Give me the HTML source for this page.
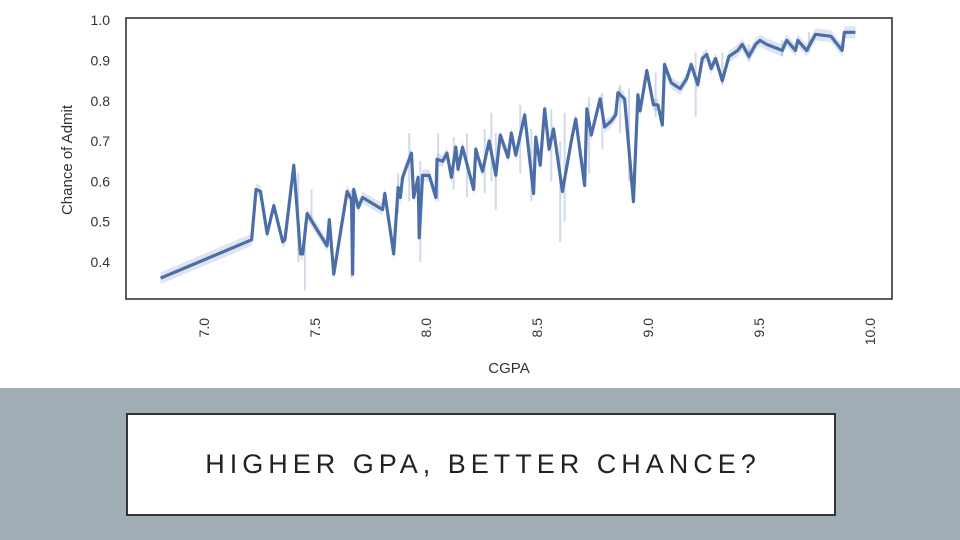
<!DOCTYPE html>
<html><head><meta charset="utf-8"><style>
body{margin:0;width:960px;height:540px;overflow:hidden;background:#fff;font-family:"Liberation Sans",sans-serif}
#band{position:absolute;left:0;top:388px;width:960px;height:152px;background:#a0adb4}
#box{position:absolute;left:126px;top:413px;width:706px;height:99px;border:2px solid #333;background:#fff;display:flex;align-items:center;justify-content:center;font-size:27px;letter-spacing:5px;color:#222;text-indent:4px}
svg{position:absolute;left:0;top:0}
</style></head><body>
<svg id="chart" width="960" height="390"></svg>
<div id="band"></div>
<div id="box"><span>HIGHER GPA, BETTER CHANCE?</span></div>
<script>
const cgpa=[6.80,7.21,7.23,7.25,7.28,7.31,7.35,7.36,7.40,7.43,7.44,7.46,7.55,7.56,7.58,7.64,7.66,7.665,7.67,7.69,7.71,7.80,7.81,7.85,7.87,7.88,7.89,7.93,7.94,7.96,7.965,7.98,8.01,8.04,8.045,8.07,8.09,8.11,8.13,8.14,8.16,8.21,8.22,8.23,8.25,8.28,8.31,8.33,8.365,8.38,8.40,8.44,8.48,8.49,8.51,8.53,8.55,8.57,8.61,8.65,8.67,8.71,8.72,8.74,8.78,8.80,8.83,8.85,8.86,8.89,8.93,8.95,8.96,8.99,9.02,9.04,9.06,9.07,9.10,9.14,9.17,9.19,9.22,9.24,9.26,9.28,9.30,9.33,9.36,9.40,9.42,9.45,9.48,9.50,9.53,9.60,9.62,9.66,9.67,9.71,9.75,9.82,9.87,9.88,9.93];
const admit=[0.36,0.455,0.58,0.575,0.47,0.54,0.45,0.455,0.64,0.42,0.42,0.52,0.44,0.505,0.37,0.575,0.555,0.37,0.58,0.535,0.56,0.53,0.57,0.42,0.585,0.56,0.61,0.67,0.56,0.61,0.46,0.615,0.615,0.56,0.655,0.65,0.67,0.61,0.685,0.63,0.685,0.58,0.68,0.66,0.625,0.70,0.615,0.715,0.66,0.72,0.665,0.765,0.57,0.71,0.64,0.78,0.68,0.73,0.575,0.70,0.755,0.59,0.78,0.715,0.805,0.735,0.75,0.765,0.82,0.805,0.55,0.815,0.775,0.875,0.79,0.79,0.74,0.89,0.845,0.83,0.855,0.89,0.84,0.905,0.915,0.88,0.905,0.85,0.91,0.925,0.94,0.91,0.94,0.95,0.94,0.925,0.95,0.925,0.95,0.925,0.965,0.96,0.925,0.97,0.97];
const ciX=[7.42,7.45,7.48,7.66,7.87,7.92,7.97,8.05,8.12,8.18,8.26,8.29,8.31,8.42,8.47,8.56,8.60,8.62,8.73,8.79,8.87,8.91,9.03,9.21,9.33,9.45,9.60,9.72];
const ciLo=[0.40,0.33,0.50,0.36,0.52,0.55,0.40,0.55,0.58,0.56,0.57,0.60,0.53,0.62,0.55,0.60,0.45,0.50,0.62,0.68,0.72,0.60,0.76,0.76,0.84,0.90,0.91,0.92];
const ciHi=[0.62,0.50,0.58,0.58,0.62,0.72,0.65,0.72,0.71,0.72,0.73,0.77,0.72,0.79,0.73,0.78,0.70,0.77,0.81,0.82,0.84,0.83,0.87,0.92,0.92,0.94,0.95,0.97];
const xTicks=[7.0,7.5,8.0,8.5,9.0,9.5,10.0];
const yTicks=[0.4,0.5,0.6,0.7,0.8,0.9,1.0];
const X=c=>205+(c-7)*222, Y=v=>262-(v-0.4)*403;
const svg=document.getElementById('chart'),NS='http://www.w3.org/2000/svg';
function mk(t,a,p){const e=document.createElementNS(NS,t);for(const k in a)e.setAttribute(k,a[k]);(p||svg).appendChild(e);return e;}
let ci=mk('g',{});


let bp='M'+cgpa.map((c,i)=>X(c)+','+Y(admit[i]+0.015)).join('L')+'L'+cgpa.slice().reverse().map((c,i,a)=>X(c)+','+Y(admit[a.length-1-i]-0.015)).join('L')+'Z';
mk('path',{d:bp,fill:'#4c6ea8',opacity:0.18},ci);
ciX.forEach((c,i)=>{mk('line',{x1:X(c),x2:X(c),y1:Y(ciLo[i]),y2:Y(ciHi[i]),stroke:'#4c6ea8','stroke-width':2,opacity:0.25},ci);});
let line=mk('polyline',{points:cgpa.map((c,i)=>X(c)+','+Y(admit[i])).join(' '),fill:'none',stroke:'#4c6ea8','stroke-width':3.2,'stroke-linejoin':'round'});


let fr=mk('rect',{x:126,y:18,width:766,height:281,fill:'none',stroke:'#333','stroke-width':1.6});


xTicks.forEach(t=>{let e=mk('text',{transform:`translate(${X(t)+4},${318}) rotate(-90)`,'text-anchor':'end','font-size':14,fill:'#333','font-family':'Liberation Sans'});e.textContent=t.toFixed(1);

});
yTicks.forEach(t=>{let e=mk('text',{x:110,y:Y(t)+5,'text-anchor':'end','font-size':14,fill:'#333','font-family':'Liberation Sans'});e.textContent=t.toFixed(1);

});
let xl=mk('text',{x:509,y:373,'text-anchor':'middle','font-size':15,fill:'#333','font-family':'Liberation Sans'});xl.textContent='CGPA';


let yl=mk('text',{transform:'translate(72,160) rotate(-90)','text-anchor':'middle','font-size':15,fill:'#333','font-family':'Liberation Sans'});yl.textContent='Chance of Admit';


</script>
</body></html>
